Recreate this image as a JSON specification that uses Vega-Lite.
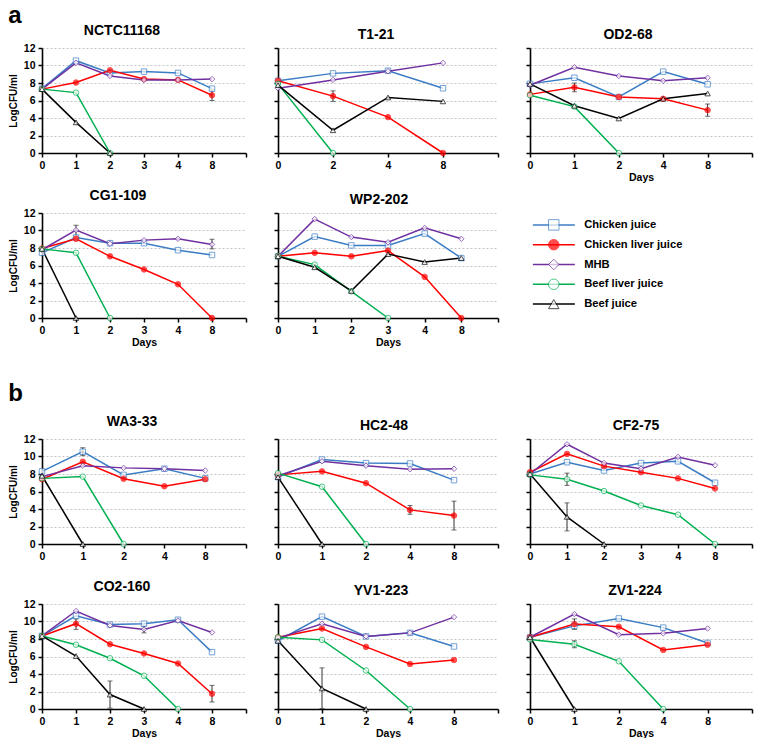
{
"$schema":"https://vega.github.io/schema/vega-lite/v6.json",
"padding":{"left":8,"top":4,"right":2,"bottom":2},
"config":{
 "font":"Liberation Sans",
 "view":{"stroke":null},
 "range":{"category":["#000000","#00b050","#3b7dc4","#ff0000","#7030a0"],"symbol":["triangle-up","circle","square","circle","diamond"]},
 "axis":{"labelFont":"Liberation Sans","labelFontSize":10.5,"labelFontWeight":"bold","labelColor":"#000","titleFont":"Liberation Sans","titleFontSize":10.5,"titleFontWeight":"bold","titleColor":"#000","domainColor":"#000","domainWidth":1.6,"tickColor":"#000","tickWidth":1.5,"tickSize":4,"labelPadding":3},
 "axisX":{"grid":false,"labelAngle":0,"titlePadding":2},
 "axisY":{"grid":true,"gridDash":[2,2],"gridColor":"#b5b5b5","gridWidth":0.8,"titlePadding":5,"titleFontSize":10},
 "title":{"font":"Liberation Sans","fontSize":14,"fontWeight":"bold","color":"#000","offset":5}
},
"data":{"values":[
{"s":"NCTC11168","m":"Chicken juice","d":"0","v":7.35},{"s":"NCTC11168","m":"Chicken juice","d":"1","v":10.55},{"s":"NCTC11168","m":"Chicken juice","d":"2","v":9.15},{"s":"NCTC11168","m":"Chicken juice","d":"3","v":9.3},{"s":"NCTC11168","m":"Chicken juice","d":"4","v":9.15},{"s":"NCTC11168","m":"Chicken juice","d":"8","v":7.35},
{"s":"NCTC11168","m":"Chicken liver juice","d":"0","v":7.3},{"s":"NCTC11168","m":"Chicken liver juice","d":"1","v":8.05},{"s":"NCTC11168","m":"Chicken liver juice","d":"2","v":9.45},{"s":"NCTC11168","m":"Chicken liver juice","d":"3","v":8.45},{"s":"NCTC11168","m":"Chicken liver juice","d":"4","v":8.35},{"s":"NCTC11168","m":"Chicken liver juice","d":"8","v":6.6,"lo":6.0,"hi":7.2},
{"s":"NCTC11168","m":"MHB","d":"0","v":7.3},{"s":"NCTC11168","m":"MHB","d":"1","v":10.3},{"s":"NCTC11168","m":"MHB","d":"2","v":8.8},{"s":"NCTC11168","m":"MHB","d":"3","v":8.35},{"s":"NCTC11168","m":"MHB","d":"4","v":8.35},{"s":"NCTC11168","m":"MHB","d":"8","v":8.45},
{"s":"NCTC11168","m":"Beef liver juice","d":"0","v":7.3},{"s":"NCTC11168","m":"Beef liver juice","d":"1","v":6.9},{"s":"NCTC11168","m":"Beef liver juice","d":"2","v":0},
{"s":"NCTC11168","m":"Beef juice","d":"0","v":7.3},{"s":"NCTC11168","m":"Beef juice","d":"1","v":3.5},{"s":"NCTC11168","m":"Beef juice","d":"2","v":0},

{"s":"T1-21","m":"Chicken juice","d":"0","v":8.25},{"s":"T1-21","m":"Chicken juice","d":"2","v":9.1},{"s":"T1-21","m":"Chicken juice","d":"4","v":9.4},{"s":"T1-21","m":"Chicken juice","d":"8","v":7.4},
{"s":"T1-21","m":"Chicken liver juice","d":"0","v":8.25},{"s":"T1-21","m":"Chicken liver juice","d":"2","v":6.5,"lo":5.9,"hi":7.1},{"s":"T1-21","m":"Chicken liver juice","d":"4","v":4.1},{"s":"T1-21","m":"Chicken liver juice","d":"8","v":0},
{"s":"T1-21","m":"MHB","d":"0","v":7.4},{"s":"T1-21","m":"MHB","d":"2","v":8.35},{"s":"T1-21","m":"MHB","d":"4","v":9.35},{"s":"T1-21","m":"MHB","d":"8","v":10.3},
{"s":"T1-21","m":"Beef liver juice","d":"0","v":7.9},{"s":"T1-21","m":"Beef liver juice","d":"2","v":0},
{"s":"T1-21","m":"Beef juice","d":"0","v":7.75},{"s":"T1-21","m":"Beef juice","d":"2","v":2.6},{"s":"T1-21","m":"Beef juice","d":"4","v":6.35},{"s":"T1-21","m":"Beef juice","d":"8","v":5.9},

{"s":"OD2-68","m":"Chicken juice","d":"0","v":7.9},{"s":"OD2-68","m":"Chicken juice","d":"1","v":8.6},{"s":"OD2-68","m":"Chicken juice","d":"2","v":6.4},{"s":"OD2-68","m":"Chicken juice","d":"4","v":9.3},{"s":"OD2-68","m":"Chicken juice","d":"8","v":7.85},
{"s":"OD2-68","m":"Chicken liver juice","d":"0","v":6.7},{"s":"OD2-68","m":"Chicken liver juice","d":"1","v":7.5,"lo":7.0,"hi":8.0},{"s":"OD2-68","m":"Chicken liver juice","d":"2","v":6.4},{"s":"OD2-68","m":"Chicken liver juice","d":"4","v":6.2},{"s":"OD2-68","m":"Chicken liver juice","d":"8","v":4.9,"lo":4.2,"hi":5.6},
{"s":"OD2-68","m":"MHB","d":"0","v":7.75},{"s":"OD2-68","m":"MHB","d":"1","v":9.8},{"s":"OD2-68","m":"MHB","d":"2","v":8.8},{"s":"OD2-68","m":"MHB","d":"4","v":8.25},{"s":"OD2-68","m":"MHB","d":"8","v":8.6},
{"s":"OD2-68","m":"Beef liver juice","d":"0","v":6.6},{"s":"OD2-68","m":"Beef liver juice","d":"1","v":5.3},{"s":"OD2-68","m":"Beef liver juice","d":"2","v":0},
{"s":"OD2-68","m":"Beef juice","d":"0","v":7.9},{"s":"OD2-68","m":"Beef juice","d":"1","v":5.4},{"s":"OD2-68","m":"Beef juice","d":"2","v":3.95},{"s":"OD2-68","m":"Beef juice","d":"4","v":6.2},{"s":"OD2-68","m":"Beef juice","d":"8","v":6.8},

{"s":"CG1-109","m":"Chicken juice","d":"0","v":7.45},{"s":"CG1-109","m":"Chicken juice","d":"1","v":9.2},{"s":"CG1-109","m":"Chicken juice","d":"2","v":8.55},{"s":"CG1-109","m":"Chicken juice","d":"3","v":8.55},{"s":"CG1-109","m":"Chicken juice","d":"4","v":7.75},{"s":"CG1-109","m":"Chicken juice","d":"8","v":7.2},
{"s":"CG1-109","m":"Chicken liver juice","d":"0","v":7.95},{"s":"CG1-109","m":"Chicken liver juice","d":"1","v":9.05},{"s":"CG1-109","m":"Chicken liver juice","d":"2","v":7.05},{"s":"CG1-109","m":"Chicken liver juice","d":"3","v":5.55},{"s":"CG1-109","m":"Chicken liver juice","d":"4","v":3.85},{"s":"CG1-109","m":"Chicken liver juice","d":"8","v":0},
{"s":"CG1-109","m":"MHB","d":"0","v":7.8},{"s":"CG1-109","m":"MHB","d":"1","v":10.05,"lo":9.4,"hi":10.6},{"s":"CG1-109","m":"MHB","d":"2","v":8.5},{"s":"CG1-109","m":"MHB","d":"3","v":8.9},{"s":"CG1-109","m":"MHB","d":"4","v":9.05},{"s":"CG1-109","m":"MHB","d":"8","v":8.4,"lo":7.9,"hi":9.0},
{"s":"CG1-109","m":"Beef liver juice","d":"0","v":7.9},{"s":"CG1-109","m":"Beef liver juice","d":"1","v":7.45},{"s":"CG1-109","m":"Beef liver juice","d":"2","v":0},
{"s":"CG1-109","m":"Beef juice","d":"0","v":7.9},{"s":"CG1-109","m":"Beef juice","d":"1","v":0},

{"s":"WP2-202","m":"Chicken juice","d":"0","v":7.05},{"s":"WP2-202","m":"Chicken juice","d":"1","v":9.3},{"s":"WP2-202","m":"Chicken juice","d":"2","v":8.3},{"s":"WP2-202","m":"Chicken juice","d":"3","v":8.3},{"s":"WP2-202","m":"Chicken juice","d":"4","v":9.65},{"s":"WP2-202","m":"Chicken juice","d":"8","v":6.85},
{"s":"WP2-202","m":"Chicken liver juice","d":"0","v":7.05},{"s":"WP2-202","m":"Chicken liver juice","d":"1","v":7.45},{"s":"WP2-202","m":"Chicken liver juice","d":"2","v":7.05},{"s":"WP2-202","m":"Chicken liver juice","d":"3","v":7.7},{"s":"WP2-202","m":"Chicken liver juice","d":"4","v":4.7},{"s":"WP2-202","m":"Chicken liver juice","d":"8","v":0},
{"s":"WP2-202","m":"MHB","d":"0","v":7.05},{"s":"WP2-202","m":"MHB","d":"1","v":11.3},{"s":"WP2-202","m":"MHB","d":"2","v":9.25},{"s":"WP2-202","m":"MHB","d":"3","v":8.65},{"s":"WP2-202","m":"MHB","d":"4","v":10.3},{"s":"WP2-202","m":"MHB","d":"8","v":9.05},
{"s":"WP2-202","m":"Beef liver juice","d":"0","v":7.05},{"s":"WP2-202","m":"Beef liver juice","d":"1","v":6.1},{"s":"WP2-202","m":"Beef liver juice","d":"2","v":3.05},{"s":"WP2-202","m":"Beef liver juice","d":"3","v":0},
{"s":"WP2-202","m":"Beef juice","d":"0","v":7.05},{"s":"WP2-202","m":"Beef juice","d":"1","v":5.8},{"s":"WP2-202","m":"Beef juice","d":"2","v":3.1},{"s":"WP2-202","m":"Beef juice","d":"3","v":7.3},{"s":"WP2-202","m":"Beef juice","d":"4","v":6.4},{"s":"WP2-202","m":"Beef juice","d":"8","v":6.85},

{"s":"WA3-33","m":"Chicken juice","d":"0","v":8.3},{"s":"WA3-33","m":"Chicken juice","d":"1","v":10.55,"lo":10.1,"hi":11.0},{"s":"WA3-33","m":"Chicken juice","d":"2","v":7.9},{"s":"WA3-33","m":"Chicken juice","d":"4","v":8.6},{"s":"WA3-33","m":"Chicken juice","d":"8","v":7.5},
{"s":"WA3-33","m":"Chicken liver juice","d":"0","v":7.4},{"s":"WA3-33","m":"Chicken liver juice","d":"1","v":9.4},{"s":"WA3-33","m":"Chicken liver juice","d":"2","v":7.45},{"s":"WA3-33","m":"Chicken liver juice","d":"4","v":6.6},{"s":"WA3-33","m":"Chicken liver juice","d":"8","v":7.4},
{"s":"WA3-33","m":"MHB","d":"0","v":7.7},{"s":"WA3-33","m":"MHB","d":"1","v":8.95},{"s":"WA3-33","m":"MHB","d":"2","v":8.7},{"s":"WA3-33","m":"MHB","d":"4","v":8.6},{"s":"WA3-33","m":"MHB","d":"8","v":8.4},
{"s":"WA3-33","m":"Beef liver juice","d":"0","v":7.5},{"s":"WA3-33","m":"Beef liver juice","d":"1","v":7.7},{"s":"WA3-33","m":"Beef liver juice","d":"2","v":0},
{"s":"WA3-33","m":"Beef juice","d":"0","v":7.8},{"s":"WA3-33","m":"Beef juice","d":"1","v":0},

{"s":"HC2-48","m":"Chicken juice","d":"0","v":7.65},{"s":"HC2-48","m":"Chicken juice","d":"1","v":9.65},{"s":"HC2-48","m":"Chicken juice","d":"2","v":9.25},{"s":"HC2-48","m":"Chicken juice","d":"4","v":9.2},{"s":"HC2-48","m":"Chicken juice","d":"8","v":7.3},
{"s":"HC2-48","m":"Chicken liver juice","d":"0","v":7.9},{"s":"HC2-48","m":"Chicken liver juice","d":"1","v":8.3},{"s":"HC2-48","m":"Chicken liver juice","d":"2","v":6.95},{"s":"HC2-48","m":"Chicken liver juice","d":"4","v":3.9,"lo":3.4,"hi":4.4},{"s":"HC2-48","m":"Chicken liver juice","d":"8","v":3.25,"lo":1.6,"hi":4.9},
{"s":"HC2-48","m":"MHB","d":"0","v":7.8},{"s":"HC2-48","m":"MHB","d":"1","v":9.45},{"s":"HC2-48","m":"MHB","d":"2","v":8.95},{"s":"HC2-48","m":"MHB","d":"4","v":8.55},{"s":"HC2-48","m":"MHB","d":"8","v":8.6},
{"s":"HC2-48","m":"Beef liver juice","d":"0","v":8.1},{"s":"HC2-48","m":"Beef liver juice","d":"1","v":6.55},{"s":"HC2-48","m":"Beef liver juice","d":"2","v":0},
{"s":"HC2-48","m":"Beef juice","d":"0","v":7.65},{"s":"HC2-48","m":"Beef juice","d":"1","v":0},

{"s":"CF2-75","m":"Chicken juice","d":"0","v":8.0},{"s":"CF2-75","m":"Chicken juice","d":"1","v":9.35},{"s":"CF2-75","m":"Chicken juice","d":"2","v":8.4},{"s":"CF2-75","m":"Chicken juice","d":"3","v":9.25},{"s":"CF2-75","m":"Chicken juice","d":"4","v":9.45},{"s":"CF2-75","m":"Chicken juice","d":"8","v":7.0},
{"s":"CF2-75","m":"Chicken liver juice","d":"0","v":8.2},{"s":"CF2-75","m":"Chicken liver juice","d":"1","v":10.3},{"s":"CF2-75","m":"Chicken liver juice","d":"2","v":8.9},{"s":"CF2-75","m":"Chicken liver juice","d":"3","v":8.2},{"s":"CF2-75","m":"Chicken liver juice","d":"4","v":7.5},{"s":"CF2-75","m":"Chicken liver juice","d":"8","v":6.35},
{"s":"CF2-75","m":"MHB","d":"0","v":8.0},{"s":"CF2-75","m":"MHB","d":"1","v":11.4},{"s":"CF2-75","m":"MHB","d":"2","v":9.25},{"s":"CF2-75","m":"MHB","d":"3","v":8.6},{"s":"CF2-75","m":"MHB","d":"4","v":9.95},{"s":"CF2-75","m":"MHB","d":"8","v":9.0},
{"s":"CF2-75","m":"Beef liver juice","d":"0","v":7.9},{"s":"CF2-75","m":"Beef liver juice","d":"1","v":7.4,"lo":6.7,"hi":8.1},{"s":"CF2-75","m":"Beef liver juice","d":"2","v":6.05},{"s":"CF2-75","m":"Beef liver juice","d":"3","v":4.4},{"s":"CF2-75","m":"Beef liver juice","d":"4","v":3.35},{"s":"CF2-75","m":"Beef liver juice","d":"8","v":0},
{"s":"CF2-75","m":"Beef juice","d":"0","v":8.0},{"s":"CF2-75","m":"Beef juice","d":"1","v":3.1,"lo":1.5,"hi":4.7},{"s":"CF2-75","m":"Beef juice","d":"2","v":0},

{"s":"CO2-160","m":"Chicken juice","d":"0","v":8.35},{"s":"CO2-160","m":"Chicken juice","d":"1","v":10.65},{"s":"CO2-160","m":"Chicken juice","d":"2","v":9.65},{"s":"CO2-160","m":"Chicken juice","d":"3","v":9.75},{"s":"CO2-160","m":"Chicken juice","d":"4","v":10.2},{"s":"CO2-160","m":"Chicken juice","d":"8","v":6.5},
{"s":"CO2-160","m":"Chicken liver juice","d":"0","v":8.35},{"s":"CO2-160","m":"Chicken liver juice","d":"1","v":9.75,"lo":9.1,"hi":10.3},{"s":"CO2-160","m":"Chicken liver juice","d":"2","v":7.4},{"s":"CO2-160","m":"Chicken liver juice","d":"3","v":6.35},{"s":"CO2-160","m":"Chicken liver juice","d":"4","v":5.2},{"s":"CO2-160","m":"Chicken liver juice","d":"8","v":1.75,"lo":0.8,"hi":2.7},
{"s":"CO2-160","m":"MHB","d":"0","v":8.35},{"s":"CO2-160","m":"MHB","d":"1","v":11.2},{"s":"CO2-160","m":"MHB","d":"2","v":9.55},{"s":"CO2-160","m":"MHB","d":"3","v":9.1,"lo":8.7,"hi":9.5},{"s":"CO2-160","m":"MHB","d":"4","v":10.1},{"s":"CO2-160","m":"MHB","d":"8","v":8.75},
{"s":"CO2-160","m":"Beef liver juice","d":"0","v":8.35},{"s":"CO2-160","m":"Beef liver juice","d":"1","v":7.35},{"s":"CO2-160","m":"Beef liver juice","d":"2","v":5.8},{"s":"CO2-160","m":"Beef liver juice","d":"3","v":3.8},{"s":"CO2-160","m":"Beef liver juice","d":"4","v":0},
{"s":"CO2-160","m":"Beef juice","d":"0","v":8.35},{"s":"CO2-160","m":"Beef juice","d":"1","v":6.05},{"s":"CO2-160","m":"Beef juice","d":"2","v":1.65,"lo":0.1,"hi":3.2},{"s":"CO2-160","m":"Beef juice","d":"3","v":0},

{"s":"YV1-223","m":"Chicken juice","d":"0","v":7.8},{"s":"YV1-223","m":"Chicken juice","d":"1","v":10.55},{"s":"YV1-223","m":"Chicken juice","d":"2","v":8.3},{"s":"YV1-223","m":"Chicken juice","d":"4","v":8.7},{"s":"YV1-223","m":"Chicken juice","d":"8","v":7.15},
{"s":"YV1-223","m":"Chicken liver juice","d":"0","v":8.2},{"s":"YV1-223","m":"Chicken liver juice","d":"1","v":9.2},{"s":"YV1-223","m":"Chicken liver juice","d":"2","v":7.1},{"s":"YV1-223","m":"Chicken liver juice","d":"4","v":5.15},{"s":"YV1-223","m":"Chicken liver juice","d":"8","v":5.6},
{"s":"YV1-223","m":"MHB","d":"0","v":8.1},{"s":"YV1-223","m":"MHB","d":"1","v":9.75},{"s":"YV1-223","m":"MHB","d":"2","v":8.3},{"s":"YV1-223","m":"MHB","d":"4","v":8.7},{"s":"YV1-223","m":"MHB","d":"8","v":10.5},
{"s":"YV1-223","m":"Beef liver juice","d":"0","v":8.2},{"s":"YV1-223","m":"Beef liver juice","d":"1","v":7.9},{"s":"YV1-223","m":"Beef liver juice","d":"2","v":4.4},{"s":"YV1-223","m":"Beef liver juice","d":"4","v":0},
{"s":"YV1-223","m":"Beef juice","d":"0","v":7.8},{"s":"YV1-223","m":"Beef juice","d":"1","v":2.35,"lo":0.05,"hi":4.7},{"s":"YV1-223","m":"Beef juice","d":"2","v":0},

{"s":"ZV1-224","m":"Chicken juice","d":"0","v":8.2},{"s":"ZV1-224","m":"Chicken juice","d":"1","v":9.5},{"s":"ZV1-224","m":"Chicken juice","d":"2","v":10.35},{"s":"ZV1-224","m":"Chicken juice","d":"4","v":9.3},{"s":"ZV1-224","m":"Chicken juice","d":"8","v":7.55},
{"s":"ZV1-224","m":"Chicken liver juice","d":"0","v":8.2},{"s":"ZV1-224","m":"Chicken liver juice","d":"1","v":9.7,"lo":9.1,"hi":10.3},{"s":"ZV1-224","m":"Chicken liver juice","d":"2","v":9.4},{"s":"ZV1-224","m":"Chicken liver juice","d":"4","v":6.75},{"s":"ZV1-224","m":"Chicken liver juice","d":"8","v":7.35},
{"s":"ZV1-224","m":"MHB","d":"0","v":8.2},{"s":"ZV1-224","m":"MHB","d":"1","v":10.85},{"s":"ZV1-224","m":"MHB","d":"2","v":8.5},{"s":"ZV1-224","m":"MHB","d":"4","v":8.65},{"s":"ZV1-224","m":"MHB","d":"8","v":9.2},
{"s":"ZV1-224","m":"Beef liver juice","d":"0","v":7.95},{"s":"ZV1-224","m":"Beef liver juice","d":"1","v":7.4,"lo":7.0,"hi":7.8},{"s":"ZV1-224","m":"Beef liver juice","d":"2","v":5.45},{"s":"ZV1-224","m":"Beef liver juice","d":"4","v":0},
{"s":"ZV1-224","m":"Beef juice","d":"0","v":8.2},{"s":"ZV1-224","m":"Beef juice","d":"1","v":0}
]},
"resolve":{"scale":{"x":"independent","y":"independent"}},
"spacing":34,
"vconcat":[
{
 "title":{"text":"a","anchor":"start","fontSize":24,"offset":-4},
 "columns":3,
 "spacing":{"row":6,"column":26},
 "resolve":{"scale":{"x":"independent","y":"independent"}},
 "concat":[
  {"title":{"text":"NCTC11168","dx":-22},"width":204,"height":105,"transform":[{"filter":"datum.s==='NCTC11168'"}],
   "encoding":{"x":{"field":"d","type":"ordinal","scale":{"type":"point","padding":0,"domain":["0","1","2","3","4","8","e"]},"axis":{"title":null,"labelExpr":"datum.value==='e'?'':datum.value"}},
    "y":{"field":"v","type":"quantitative","scale":{"domain":[0,12]},"axis":{"title":"LogCFU/ml","values":[0,2,4,6,8,10,12]}}},
   "layer":[
    {"mark":{"type":"line","strokeWidth":1.5},"encoding":{"color":{"field":"m","type":"nominal","legend":null}}},
    {"transform":[{"filter":"isValid(datum.lo)"}],"mark":{"type":"errorbar","ticks":{"size":5},"color":"#333"},"encoding":{"y":{"field":"lo","type":"quantitative"},"y2":{"field":"hi"}}},
    {"mark":{"type":"point","filled":true,"size":30,"strokeWidth":1},"encoding":{"shape":{"field":"m","type":"nominal","legend":null},"stroke":{"field":"m","type":"nominal","legend":null},"fill":{"condition":{"test":"datum.m==='Chicken liver juice'","value":"#ff0000"},"value":"white"}}}
   ]},
  {"title":{"text":"T1-21","dx":-12},"width":220,"height":105,"transform":[{"filter":"datum.s==='T1-21'"}],
   "encoding":{"x":{"field":"d","type":"ordinal","scale":{"type":"point","padding":0,"domain":["0","2","4","8","e"]},"axis":{"title":null,"labelExpr":"datum.value==='e'?'':datum.value"}},
    "y":{"field":"v","type":"quantitative","scale":{"domain":[0,12]},"axis":{"title":null,"labels":false,"values":[0,2,4,6,8,10,12]}}},
   "layer":[
    {"mark":{"type":"line","strokeWidth":1.5},"encoding":{"color":{"field":"m","type":"nominal","legend":null}}},
    {"transform":[{"filter":"isValid(datum.lo)"}],"mark":{"type":"errorbar","ticks":{"size":5},"color":"#333"},"encoding":{"y":{"field":"lo","type":"quantitative"},"y2":{"field":"hi"}}},
    {"mark":{"type":"point","filled":true,"size":30,"strokeWidth":1},"encoding":{"shape":{"field":"m","type":"nominal","legend":null},"stroke":{"field":"m","type":"nominal","legend":null},"fill":{"condition":{"test":"datum.m==='Chicken liver juice'","value":"#ff0000"},"value":"white"}}}
   ]},
  {"title":{"text":"OD2-68","dx":-13},"width":222,"height":105,"transform":[{"filter":"datum.s==='OD2-68'"}],
   "encoding":{"x":{"field":"d","type":"ordinal","scale":{"type":"point","padding":0,"domain":["0","1","2","4","8","e"]},"axis":{"title":"Days","labelExpr":"datum.value==='e'?'':datum.value"}},
    "y":{"field":"v","type":"quantitative","scale":{"domain":[0,12]},"axis":{"title":null,"labels":false,"values":[0,2,4,6,8,10,12]}}},
   "layer":[
    {"mark":{"type":"line","strokeWidth":1.5},"encoding":{"color":{"field":"m","type":"nominal","legend":null}}},
    {"transform":[{"filter":"isValid(datum.lo)"}],"mark":{"type":"errorbar","ticks":{"size":5},"color":"#333"},"encoding":{"y":{"field":"lo","type":"quantitative"},"y2":{"field":"hi"}}},
    {"mark":{"type":"point","filled":true,"size":30,"strokeWidth":1},"encoding":{"shape":{"field":"m","type":"nominal","legend":null},"stroke":{"field":"m","type":"nominal","legend":null},"fill":{"condition":{"test":"datum.m==='Chicken liver juice'","value":"#ff0000"},"value":"white"}}}
   ]},
  {"title":{"text":"CG1-109","dx":-26},"width":204,"height":105,"transform":[{"filter":"datum.s==='CG1-109'"}],
   "encoding":{"x":{"field":"d","type":"ordinal","scale":{"type":"point","padding":0,"domain":["0","1","2","3","4","8","e"]},"axis":{"title":"Days","labelExpr":"datum.value==='e'?'':datum.value"}},
    "y":{"field":"v","type":"quantitative","scale":{"domain":[0,12]},"axis":{"title":"LogCFU/ml","values":[0,2,4,6,8,10,12]}}},
   "layer":[
    {"mark":{"type":"line","strokeWidth":1.5},"encoding":{"color":{"field":"m","type":"nominal","legend":null}}},
    {"transform":[{"filter":"isValid(datum.lo)"}],"mark":{"type":"errorbar","ticks":{"size":5},"color":"#333"},"encoding":{"y":{"field":"lo","type":"quantitative"},"y2":{"field":"hi"}}},
    {"mark":{"type":"point","filled":true,"size":30,"strokeWidth":1},"encoding":{"shape":{"field":"m","type":"nominal","legend":null},"stroke":{"field":"m","type":"nominal","legend":null},"fill":{"condition":{"test":"datum.m==='Chicken liver juice'","value":"#ff0000"},"value":"white"}}}
   ]},
  {"title":{"text":"WP2-202","dx":-9},"width":220,"height":105,"transform":[{"filter":"datum.s==='WP2-202'"}],
   "encoding":{"x":{"field":"d","type":"ordinal","scale":{"type":"point","padding":0,"domain":["0","1","2","3","4","8","e"]},"axis":{"title":"Days","labelExpr":"datum.value==='e'?'':datum.value"}},
    "y":{"field":"v","type":"quantitative","scale":{"domain":[0,12]},"axis":{"title":null,"labels":false,"values":[0,2,4,6,8,10,12]}}},
   "layer":[
    {"mark":{"type":"line","strokeWidth":1.5},"encoding":{"color":{"field":"m","type":"nominal","legend":null}}},
    {"transform":[{"filter":"isValid(datum.lo)"}],"mark":{"type":"errorbar","ticks":{"size":5},"color":"#333"},"encoding":{"y":{"field":"lo","type":"quantitative"},"y2":{"field":"hi"}}},
    {"mark":{"type":"point","filled":true,"size":30,"strokeWidth":1},"encoding":{"shape":{"field":"m","type":"nominal","legend":null},"stroke":{"field":"m","type":"nominal","legend":null},"fill":{"condition":{"test":"datum.m==='Chicken liver juice'","value":"#ff0000"},"value":"white"}}}
   ]},
  {"title":" ","width":222,"height":103,
   "data":{"values":[{"m":"Chicken juice"},{"m":"Chicken liver juice"},{"m":"MHB"},{"m":"Beef liver juice"},{"m":"Beef juice"}]},
   "encoding":{"y":{"field":"m","type":"nominal","sort":["Chicken juice","Chicken liver juice","MHB","Beef liver juice","Beef juice"],"scale":{"type":"point","padding":0.6},"axis":null}},
   "layer":[
    {"mark":{"type":"rule","strokeWidth":1.5},"encoding":{"x":{"datum":0.13,"type":"quantitative","scale":{"domain":[0,10]},"axis":null},"x2":{"datum":2.02},"color":{"field":"m","type":"nominal","legend":null}}},
    {"mark":{"type":"point","filled":true,"size":110,"strokeWidth":1},"encoding":{"x":{"datum":1.07,"type":"quantitative"},"shape":{"field":"m","type":"nominal","legend":null},"stroke":{"field":"m","type":"nominal","legend":null},"fill":{"condition":{"test":"datum.m==='Chicken liver juice'","value":"#ff0000"},"value":"white"}}},
    {"mark":{"type":"text","align":"left","baseline":"middle","fontSize":11.2,"fontWeight":"bold","font":"Liberation Sans","color":"#000"},"encoding":{"x":{"datum":2.44,"type":"quantitative"},"text":{"field":"m"}}}
   ]}
 ]
},
{
 "title":{"text":"b","anchor":"start","fontSize":24,"offset":9},
 "columns":3,
 "spacing":{"row":18,"column":26},
 "resolve":{"scale":{"x":"independent","y":"independent"}},
 "concat":[
  {"title":{"text":"WA3-33","dx":-12},"width":204,"height":105,"transform":[{"filter":"datum.s==='WA3-33'"}],
   "encoding":{"x":{"field":"d","type":"ordinal","scale":{"type":"point","padding":0,"domain":["0","1","2","4","8","e"]},"axis":{"title":null,"labelExpr":"datum.value==='e'?'':datum.value"}},
    "y":{"field":"v","type":"quantitative","scale":{"domain":[0,12]},"axis":{"title":"LogCFU/ml","values":[0,2,4,6,8,10,12]}}},
   "layer":[
    {"mark":{"type":"line","strokeWidth":1.5},"encoding":{"color":{"field":"m","type":"nominal","legend":null}}},
    {"transform":[{"filter":"isValid(datum.lo)"}],"mark":{"type":"errorbar","ticks":{"size":5},"color":"#333"},"encoding":{"y":{"field":"lo","type":"quantitative"},"y2":{"field":"hi"}}},
    {"mark":{"type":"point","filled":true,"size":30,"strokeWidth":1},"encoding":{"shape":{"field":"m","type":"nominal","legend":null},"stroke":{"field":"m","type":"nominal","legend":null},"fill":{"condition":{"test":"datum.m==='Chicken liver juice'","value":"#ff0000"},"value":"white"}}}
   ]},
  {"title":{"text":"HC2-48","dx":-4},"width":220,"height":105,"transform":[{"filter":"datum.s==='HC2-48'"}],
   "encoding":{"x":{"field":"d","type":"ordinal","scale":{"type":"point","padding":0,"domain":["0","1","2","4","8","e"]},"axis":{"title":null,"labelExpr":"datum.value==='e'?'':datum.value"}},
    "y":{"field":"v","type":"quantitative","scale":{"domain":[0,12]},"axis":{"title":null,"labels":false,"values":[0,2,4,6,8,10,12]}}},
   "layer":[
    {"mark":{"type":"line","strokeWidth":1.5},"encoding":{"color":{"field":"m","type":"nominal","legend":null}}},
    {"transform":[{"filter":"isValid(datum.lo)"}],"mark":{"type":"errorbar","ticks":{"size":5},"color":"#333"},"encoding":{"y":{"field":"lo","type":"quantitative"},"y2":{"field":"hi"}}},
    {"mark":{"type":"point","filled":true,"size":30,"strokeWidth":1},"encoding":{"shape":{"field":"m","type":"nominal","legend":null},"stroke":{"field":"m","type":"nominal","legend":null},"fill":{"condition":{"test":"datum.m==='Chicken liver juice'","value":"#ff0000"},"value":"white"}}}
   ]},
  {"title":{"text":"CF2-75","dx":-5},"width":222,"height":105,"transform":[{"filter":"datum.s==='CF2-75'"}],
   "encoding":{"x":{"field":"d","type":"ordinal","scale":{"type":"point","padding":0,"domain":["0","1","2","3","4","8","e"]},"axis":{"title":null,"labelExpr":"datum.value==='e'?'':datum.value"}},
    "y":{"field":"v","type":"quantitative","scale":{"domain":[0,12]},"axis":{"title":null,"labels":false,"values":[0,2,4,6,8,10,12]}}},
   "layer":[
    {"mark":{"type":"line","strokeWidth":1.5},"encoding":{"color":{"field":"m","type":"nominal","legend":null}}},
    {"transform":[{"filter":"isValid(datum.lo)"}],"mark":{"type":"errorbar","ticks":{"size":5},"color":"#333"},"encoding":{"y":{"field":"lo","type":"quantitative"},"y2":{"field":"hi"}}},
    {"mark":{"type":"point","filled":true,"size":30,"strokeWidth":1},"encoding":{"shape":{"field":"m","type":"nominal","legend":null},"stroke":{"field":"m","type":"nominal","legend":null},"fill":{"condition":{"test":"datum.m==='Chicken liver juice'","value":"#ff0000"},"value":"white"}}}
   ]},
  {"title":{"text":"CO2-160","dx":-22},"width":204,"height":105,"transform":[{"filter":"datum.s==='CO2-160'"}],
   "encoding":{"x":{"field":"d","type":"ordinal","scale":{"type":"point","padding":0,"domain":["0","1","2","3","4","8","e"]},"axis":{"title":"Days","labelExpr":"datum.value==='e'?'':datum.value"}},
    "y":{"field":"v","type":"quantitative","scale":{"domain":[0,12]},"axis":{"title":"LogCFU/ml","values":[0,2,4,6,8,10,12]}}},
   "layer":[
    {"mark":{"type":"line","strokeWidth":1.5},"encoding":{"color":{"field":"m","type":"nominal","legend":null}}},
    {"transform":[{"filter":"isValid(datum.lo)"}],"mark":{"type":"errorbar","ticks":{"size":5},"color":"#333"},"encoding":{"y":{"field":"lo","type":"quantitative"},"y2":{"field":"hi"}}},
    {"mark":{"type":"point","filled":true,"size":30,"strokeWidth":1},"encoding":{"shape":{"field":"m","type":"nominal","legend":null},"stroke":{"field":"m","type":"nominal","legend":null},"fill":{"condition":{"test":"datum.m==='Chicken liver juice'","value":"#ff0000"},"value":"white"}}}
   ]},
  {"title":{"text":"YV1-223","dx":-7},"width":220,"height":105,"transform":[{"filter":"datum.s==='YV1-223'"}],
   "encoding":{"x":{"field":"d","type":"ordinal","scale":{"type":"point","padding":0,"domain":["0","1","2","4","8","e"]},"axis":{"title":"Days","labelExpr":"datum.value==='e'?'':datum.value"}},
    "y":{"field":"v","type":"quantitative","scale":{"domain":[0,12]},"axis":{"title":null,"labels":false,"values":[0,2,4,6,8,10,12]}}},
   "layer":[
    {"mark":{"type":"line","strokeWidth":1.5},"encoding":{"color":{"field":"m","type":"nominal","legend":null}}},
    {"transform":[{"filter":"isValid(datum.lo)"}],"mark":{"type":"errorbar","ticks":{"size":5},"color":"#333"},"encoding":{"y":{"field":"lo","type":"quantitative"},"y2":{"field":"hi"}}},
    {"mark":{"type":"point","filled":true,"size":30,"strokeWidth":1},"encoding":{"shape":{"field":"m","type":"nominal","legend":null},"stroke":{"field":"m","type":"nominal","legend":null},"fill":{"condition":{"test":"datum.m==='Chicken liver juice'","value":"#ff0000"},"value":"white"}}}
   ]},
  {"title":{"text":"ZV1-224","dx":-6},"width":222,"height":105,"transform":[{"filter":"datum.s==='ZV1-224'"}],
   "encoding":{"x":{"field":"d","type":"ordinal","scale":{"type":"point","padding":0,"domain":["0","1","2","4","8","e"]},"axis":{"title":"Days","labelExpr":"datum.value==='e'?'':datum.value"}},
    "y":{"field":"v","type":"quantitative","scale":{"domain":[0,12]},"axis":{"title":null,"labels":false,"values":[0,2,4,6,8,10,12]}}},
   "layer":[
    {"mark":{"type":"line","strokeWidth":1.5},"encoding":{"color":{"field":"m","type":"nominal","legend":null}}},
    {"transform":[{"filter":"isValid(datum.lo)"}],"mark":{"type":"errorbar","ticks":{"size":5},"color":"#333"},"encoding":{"y":{"field":"lo","type":"quantitative"},"y2":{"field":"hi"}}},
    {"mark":{"type":"point","filled":true,"size":30,"strokeWidth":1},"encoding":{"shape":{"field":"m","type":"nominal","legend":null},"stroke":{"field":"m","type":"nominal","legend":null},"fill":{"condition":{"test":"datum.m==='Chicken liver juice'","value":"#ff0000"},"value":"white"}}}
   ]}
 ]
}
]
}
